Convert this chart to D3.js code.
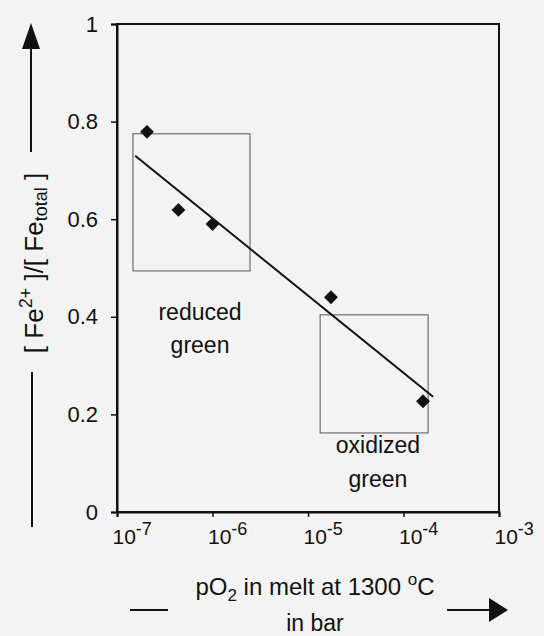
<!DOCTYPE html>
<html>
<head>
<meta charset="utf-8">
<script src="https://cdn.jsdelivr.net/npm/d3@7"></script>
<style>
  body { margin: 0; background: #f3f3f3; }
  svg { display: block; font-family: "Liberation Sans", Arial, sans-serif; }
</style>
</head>
<body>
<div id="chart"></div>
<script>
// measured samples: pO2 (bar) vs Fe2+/Fe total
var pO2 = [2.06e-7, 4.4e-7, 1.0e-6, 1.74e-5, 1.6e-4];
var ratio = [0.779, 0.619, 0.590, 0.44, 0.227];

// regression line end points
var fitX = [1.55e-7, 2.04e-4];
var fitY = [0.73, 0.236];

// colour ranges: [x0, x1, y0, y1]
var reducedBox = [1.47e-7, 2.47e-6, 0.494, 0.775];
var oxidizedBox = [1.34e-5, 1.81e-4, 0.162, 0.404];

var xTicks = [1e-7, 1e-6, 1e-5, 1e-4, 1e-3];
var xExp = ["-7", "-6", "-5", "-4", "-3"];
var yTicks = [0, 0.2, 0.4, 0.6, 0.8, 1];

var W = 544, H = 636;
var plotL = 117, plotR = 499, plotT = 24, plotB = 512;

var svg = d3.select("#chart").append("svg")
    .attr("width", W)
    .attr("height", H);

var x = d3.scaleLog().domain([1e-7, 1e-3]).range([plotL, plotR]);
var y = d3.scaleLinear().domain([0, 1]).range([plotB, plotT]);

//frame
svg.append("rect")
    .attr("x", plotL).attr("y", plotT)
    .attr("width", plotR - plotL).attr("height", plotB - plotT)
    .attr("fill", "none").attr("stroke", "#111").attr("stroke-width", 2);

//axes
var yAxis = svg.append("g")
    .attr("transform", "translate(" + plotL + ",0)")
    .call(d3.axisLeft(y).tickValues(yTicks).tickSize(6).tickPadding(13)
        .tickFormat(function (d) { return String(d); }));

var xAxis = svg.append("g")
    .attr("transform", "translate(0," + plotB + ")")
    .call(d3.axisBottom(x).tickValues(xTicks).tickSize(5).tickPadding(8)
        .tickFormat(""));

[yAxis, xAxis].forEach(function (a) {
    a.attr("font-size", null).attr("font-family", null);
    a.select(".domain").attr("stroke", "#111").attr("stroke-width", 2);
    a.selectAll(".tick line").attr("stroke", "#111").attr("stroke-width", 1.5);
});
yAxis.selectAll(".tick text")
    .attr("fill", "#111")
    .style("font-size", "22px");

// x tick labels 10^n
xAxis.selectAll(".tick text").remove();
xAxis.selectAll(".tick").each(function (d, i) {
    var t = d3.select(this).append("text")
        .attr("x", -5)
        .attr("y", 32)
        .attr("text-anchor", "start")
        .attr("fill", "#111")
        .style("font-size", "21px");
    t.append("tspan").text("10");
    t.append("tspan").attr("dy", -9).style("font-size", "18px").text(xExp[i]);
});

//colour boxes
[reducedBox, oxidizedBox].forEach(function (b) {
    svg.append("rect")
        .attr("x", x(b[0]))
        .attr("y", y(b[3]))
        .attr("width", x(b[1]) - x(b[0]))
        .attr("height", y(b[2]) - y(b[3]))
        .attr("fill", "none")
        .attr("stroke", "#555")
        .attr("stroke-width", 1);
});

//fit line
svg.append("line")
    .attr("x1", x(fitX[0])).attr("y1", y(fitY[0]))
    .attr("x2", x(fitX[1])).attr("y2", y(fitY[1]))
    .attr("stroke", "#111").attr("stroke-width", 2);

//diamonds
var diamond = d3.symbol().type(d3.symbolSquare).size(96);
svg.selectAll(".pt")
    .data(pO2)
    .enter()
    .append("path")
    .attr("class", "pt")
    .attr("d", diamond)
    .attr("transform", function (d, i) {
        return "translate(" + x(d) + "," + y(ratio[i]) + ") rotate(45)";
    })
    .attr("fill", "#111");

//box labels
function label(txt, px, py) {
    svg.append("text")
        .attr("x", x(px)).attr("y", y(py))
        .attr("text-anchor", "middle")
        .attr("fill", "#111")
        .style("font-size", "23px")
        .text(txt);
}
label("reduced", 7.4e-7, 0.393);
label("green", 7.4e-7, 0.326);
label("oxidized", 5.4e-5, 0.121);
label("green", 5.4e-5, 0.051);

//x axis title
var xt = svg.append("text")
    .attr("x", 315).attr("y", 595)
    .attr("text-anchor", "middle")
    .attr("fill", "#111")
    .style("font-size", "24px");
xt.append("tspan").text("pO");
xt.append("tspan").attr("dy", 6).style("font-size", "17px").text("2");
xt.append("tspan").attr("dy", -6).text(" in melt at 1300 ");
xt.append("tspan").attr("dy", -10).style("font-size", "17px").text("o");
xt.append("tspan").attr("dy", 10).text("C");

svg.append("text")
    .attr("x", 315).attr("y", 631)
    .attr("text-anchor", "middle")
    .attr("fill", "#111")
    .style("font-size", "23px")
    .text("in bar");

svg.append("line")
    .attr("x1", 130).attr("x2", 168).attr("y1", 610).attr("y2", 610)
    .attr("stroke", "#111").attr("stroke-width", 2);
svg.append("line")
    .attr("x1", 447).attr("x2", 492).attr("y1", 610).attr("y2", 610)
    .attr("stroke", "#111").attr("stroke-width", 2);
svg.append("path")
    .attr("d", "M508,610 L489,598 L489,622 Z")
    .attr("fill", "#111");

//y axis title
var yt = svg.append("text")
    .attr("transform", "translate(43,263) rotate(-90)")
    .attr("text-anchor", "middle")
    .attr("fill", "#111")
    .style("font-size", "26px");
yt.append("tspan").text("[ Fe");
yt.append("tspan").attr("dy", -11).style("font-size", "18px").text("2+");
yt.append("tspan").attr("dy", 11).text(" ]/[ Fe");
yt.append("tspan").attr("dy", 4).style("font-size", "18px").text("total");
yt.append("tspan").attr("dy", -4).text(" ]");

svg.append("line")
    .attr("x1", 31).attr("x2", 31).attr("y1", 46).attr("y2", 152)
    .attr("stroke", "#111").attr("stroke-width", 2);
svg.append("path")
    .attr("d", "M31,23 L22,49 L40,49 Z")
    .attr("fill", "#111");
svg.append("line")
    .attr("x1", 32).attr("x2", 32).attr("y1", 372).attr("y2", 527)
    .attr("stroke", "#111").attr("stroke-width", 2);
</script>
</body>
</html>
